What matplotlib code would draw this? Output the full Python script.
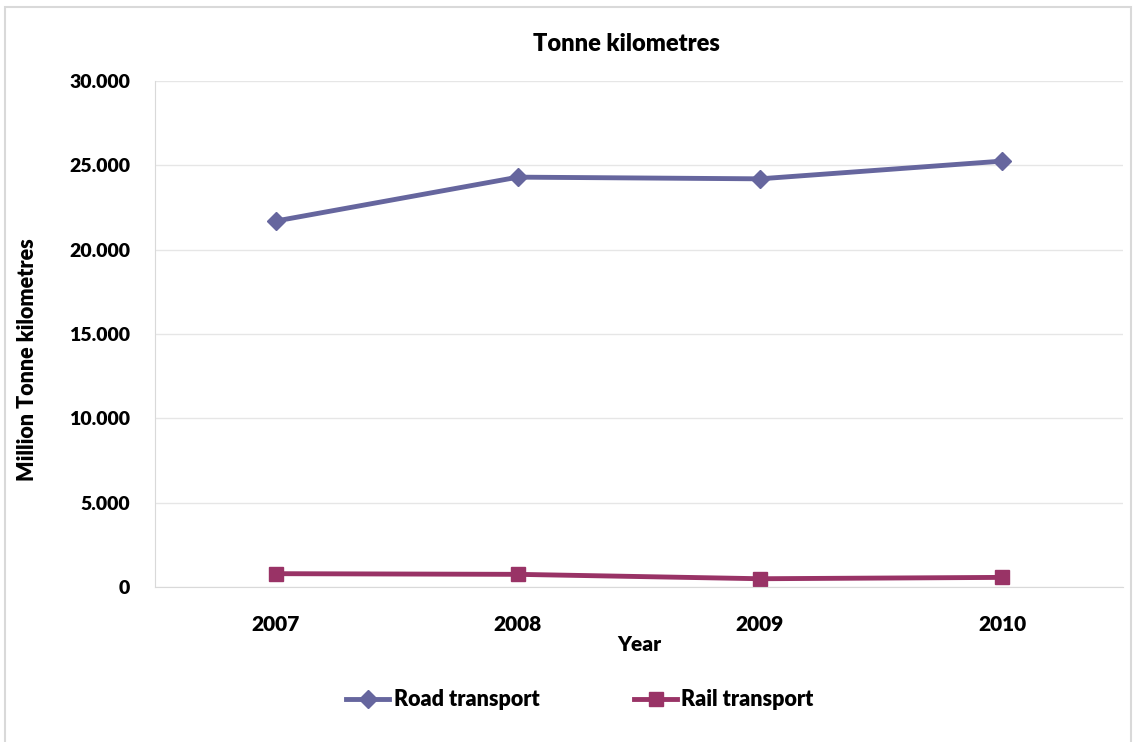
import matplotlib; matplotlib.use("Agg")
import matplotlib.pyplot as plt
from matplotlib.patches import Rectangle
from matplotlib.ticker import FuncFormatter
import numpy as np

years = ["2007", "2008", "2009", "2010"]
road = [21700, 24300, 24200, 25250]
rail = [790, 750, 490, 570]

ROAD_C, RAIL_C = "#66669E", "#993366"
plt.rcParams["font.family"] = ["Lato", "DejaVu Sans"]

fig = plt.figure(figsize=(11.34, 7.42), dpi=100)
ax = fig.add_axes([155/1134, 1 - 587/742, (1123-155)/1134, (587-81)/742])

x = np.arange(len(years))
ax.plot(x, road, color=ROAD_C, lw=3.5, marker="D", ms=9, label="Road transport")
ax.plot(x, rail, color=RAIL_C, lw=3.5, marker="s", ms=10, label="Rail transport")

ax.set_xlim(-0.5, len(years) - 0.5)
ax.set_ylim(0, 30000)
ax.set_yticks(np.arange(0, 30001, 5000))
ax.yaxis.set_major_formatter(FuncFormatter(lambda v, p: "0" if v == 0 else f"{int(v):,}".replace(",", ".")))
ax.set_xticks(x)
ax.set_xticklabels(years)
ax.tick_params(axis="x", length=0, labelsize=15, pad=20)
ax.tick_params(axis="y", length=0, labelsize=14, pad=18)
for lab in ax.get_xticklabels() + ax.get_yticklabels():
    lab.set_fontweight("heavy")
ax.grid(axis="y", color="#e6e6e6", lw=1)
ax.set_axisbelow(True)
for s in ["top", "right"]:
    ax.spines[s].set_visible(False)
for s in ["left", "bottom"]:
    ax.spines[s].set_color("#d9d9d9")

ax.set_xlabel("Year", fontsize=15, fontweight="heavy", labelpad=1)
fig.text(28/1134, 1 - 360/742, "Million Tonne kilometres", rotation=90, ha="center", va="center",
         fontsize=15.5, fontweight="heavy")
fig.text(626/1134, 1 - 44/742, "Tonne kilometres", ha="center", va="center", fontsize=17, fontweight="heavy")

fig.legend(loc="center", bbox_to_anchor=(580/1134, 1 - 700/742), ncol=2, frameon=False,
           prop={"size": 15.5, "weight": "heavy"}, handlelength=2.0, columnspacing=4.4, handletextpad=0.2)

fig.patches.append(Rectangle((5/1134, -0.01), (1131-5)/1134, 1 - 7/742 + 0.01, transform=fig.transFigure,
                             fill=False, edgecolor="#d9d9d9", lw=1.5))

fig.savefig("out.png", dpi=100, facecolor="white")
